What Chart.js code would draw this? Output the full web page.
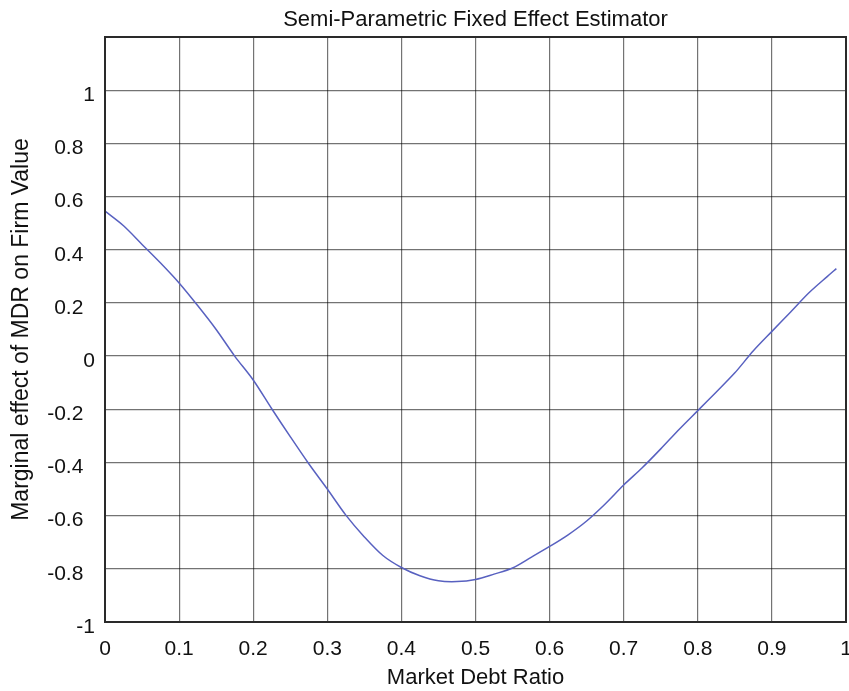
<!DOCTYPE html>
<html>
<head>
<meta charset="utf-8">
<script src="https://cdn.jsdelivr.net/npm/chart.js@4.4.1/dist/chart.umd.min.js"></script>
<style>
  html, body { margin: 0; padding: 0; background: #fff; }
  #wrap { width: 849px; height: 691px; }
</style>
</head>
<body>
<div id="wrap"><canvas id="chart" width="849" height="691"></canvas></div>
<script>
// values
const debtRatio = [0, 0.025, 0.05, 0.075, 0.1, 0.125, 0.15, 0.175, 0.2, 0.225,
  0.25, 0.275, 0.3, 0.325, 0.35, 0.375, 0.4, 0.425, 0.45, 0.475,
  0.5, 0.525, 0.55, 0.575, 0.6, 0.625, 0.65, 0.675, 0.7, 0.725,
  0.75, 0.775, 0.8, 0.825, 0.85, 0.875, 0.9, 0.925, 0.95, 0.975, 0.987];
const marginalEffect = [0.545, 0.49, 0.42, 0.35, 0.275, 0.19, 0.10, 0.0, -0.09, -0.198,
  -0.303, -0.405, -0.50, -0.598, -0.68, -0.75, -0.795, -0.826, -0.845, -0.848,
  -0.840, -0.82, -0.797, -0.757, -0.716, -0.672, -0.62, -0.556, -0.485, -0.42,
  -0.349, -0.275, -0.205, -0.135, -0.063, 0.02, 0.093, 0.165, 0.238, 0.30, 0.329];
const xTicks = [0, 0.1, 0.2, 0.3, 0.4, 0.5, 0.6, 0.7, 0.8, 0.9, 1];
const yTicks = [-1, -0.8, -0.6, -0.4, -0.2, 0, 0.2, 0.4, 0.6, 0.8, 1, 1.2];

const FONT = "'Liberation Sans', Arial, Helvetica, sans-serif";
const gridColor = 'rgba(0,0,0,0.55)';

function fmt(v) {
  return String(Number(v.toFixed(1)));
}

// box round the plot area
const frame = {
  id: 'frame',
  afterDraw(chart) {
    const a = chart.chartArea, c = chart.ctx;
    c.save();
    c.strokeStyle = '#2a2a2a';
    c.lineWidth = 2;
    c.strokeRect(a.left, a.top, a.right - a.left, a.bottom - a.top);
    c.restore();
  }
};

const points = debtRatio.map((x, i) => ({ x: x, y: marginalEffect[i] }));

new Chart(document.getElementById('chart'), {
  type: 'line',
  data: {
    datasets: [{
      data: points,
      borderColor: '#5861c0',
      borderWidth: 1.5,
      pointRadius: 0,
      tension: 0.3,
      fill: false
    }]
  },
  options: {
    responsive: false,
    animation: false,
    layout: { padding: { top: 0, right: 3, bottom: 0, left: 0 } },
    plugins: {
      legend: { display: false },
      tooltip: { enabled: false },
      title: {
        display: true,
        text: 'Semi-Parametric Fixed Effect Estimator',
        fullSize: false,
        color: '#111',
        font: { family: FONT, size: 22, weight: 'normal' },
        padding: { top: 7, bottom: 3.6 }
      }
    },
    scales: {
      x: {
        type: 'linear',
        min: 0,
        max: 1,
        afterBuildTicks(scale) { scale.ticks = xTicks.map(v => ({ value: v })); },
        afterFit(scale) {
          scale.height = 69;
          scale.paddingLeft = 0;
          scale.paddingRight = 0;
        },
        grid: { color: gridColor, lineWidth: 1.2, drawTicks: false },
        border: { display: false },
        ticks: {
          color: '#111',
          padding: 15,
          maxRotation: 0,
          font: { family: FONT, size: 21 },
          callback: v => fmt(v)
        },
        title: {
          display: true,
          text: 'Market Debt Ratio',
          color: '#111',
          font: { family: FONT, size: 22 },
          padding: { top: 0, bottom: 0 }
        }
      },
      y: {
        min: -1,
        max: 1.2,
        afterBuildTicks(scale) { scale.ticks = yTicks.map(v => ({ value: v })); },
        afterFit(scale) {
          scale.width = 105;
          scale.paddingTop = 0;
          scale.paddingBottom = 0;
        },
        grid: { color: gridColor, lineWidth: 1.2, drawTicks: false },
        border: { display: false },
        ticks: {
          color: '#111',
          padding: 10,
          labelOffset: 5,
          font: { family: FONT, size: 21 },
          callback: v => {
            if (v > 1.05) return '';
            const s = fmt(v);
            return Number.isInteger(Number(s)) ? s : s + '  ';
          }
        },
        title: {
          display: true,
          text: 'Marginal effect of MDR on Firm Value',
          color: '#111',
          font: { family: FONT, size: 23 },
          padding: { top: 8, bottom: 0 }
        }
      }
    }
  },
  plugins: [frame]
});
</script>
</body>
</html>
